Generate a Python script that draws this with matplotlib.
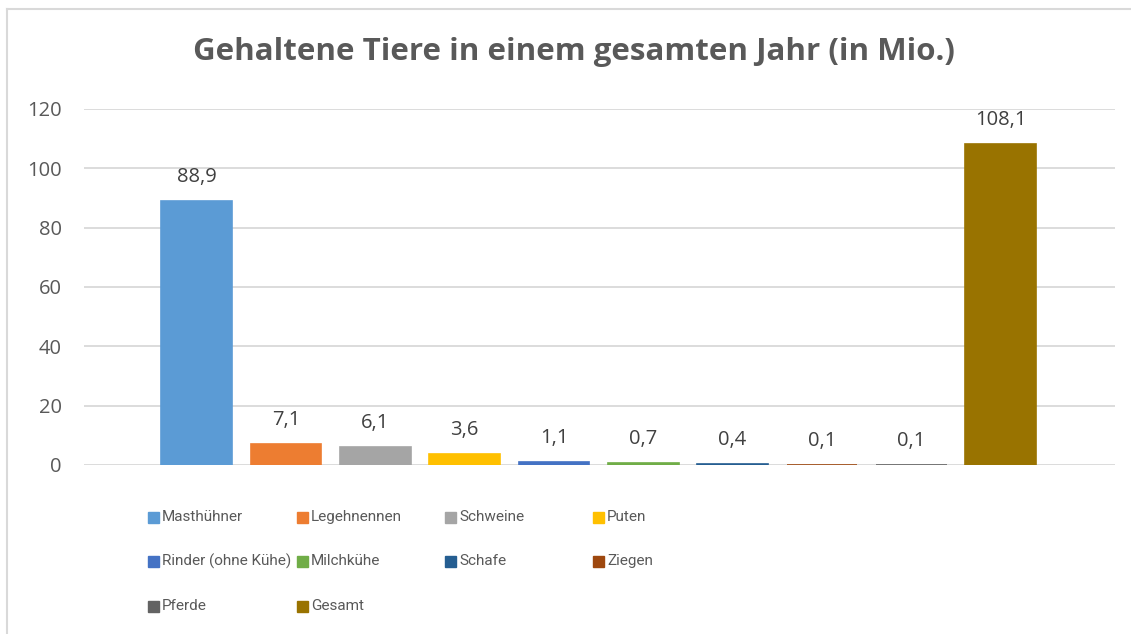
import numpy as np
import matplotlib.pyplot as plt
from matplotlib.patches import Rectangle
from matplotlib.lines import Line2D

# data
categories = ["Masthühner", "Legehnennen", "Schweine", "Puten", "Rinder (ohne Kühe)",
              "Milchkühe", "Schafe", "Ziegen", "Pferde", "Gesamt"]
values = [88.9, 7.1, 6.1, 3.6, 1.1, 0.7, 0.4, 0.1, 0.1, 108.1]
colors = ["#5B9BD5", "#ED7D31", "#A5A5A5", "#FFC000", "#4472C4",
          "#70AD47", "#255E91", "#9E480E", "#636363", "#997300"]
yticks = [0, 20, 40, 60, 80, 100, 120]

plt.rcParams['font.family'] = ['Open Sans', 'DejaVu Sans']
txt = "#595959"

W, H = 1131, 634
fig = plt.figure(figsize=(W / 100, H / 100), dpi=100)
ax = fig.add_axes([84 / W, 1 - 465 / H, (1115 - 84) / W, (465 - 109) / H])

x = np.arange(len(values))
bars = ax.bar(x, values, width=0.79, color=colors, edgecolor=colors,
              linewidth=1.2, zorder=3)
for b, v in zip(bars, values):
    ax.annotate(f"{v:.1f}".replace(".", ","), (b.get_x() + b.get_width() / 2, v),
                xytext=(0, 10), textcoords="offset points", ha="center", va="bottom",
                fontsize=14.5, color="#404040")

ax.set_xlim(-1.26, 10.28)
ax.set_ylim(0, 120)
ax.set_yticks(yticks)
ax.set_xticks([])
ax.tick_params(axis="y", length=0, pad=16, labelsize=14.5, labelcolor=txt)
ax.grid(axis="y", color="#D9D9D9", linewidth=1.3, zorder=0)
for s in ax.spines.values():
    s.set_visible(False)

fig.text(574 / W, 1 - 52 / H, "Gehaltene Tiere in einem gesamten Jahr (in Mio.)",
         ha="center", va="center", fontsize=22.5, fontweight="bold", color=txt)

# legend laid out like Excel: 4 equal columns
col_x = [148, 297, 445, 593]
row_y = [517, 561, 606]
sq = 11
for i, (name, c) in enumerate(zip(categories, colors)):
    cx = col_x[i % 4]
    cy = row_y[i // 4]
    fig.patches.append(Rectangle((cx / W, 1 - (cy + sq / 2) / H), sq / W, sq / H,
                                 transform=fig.transFigure, color=c, figure=fig))
    fig.text((cx + 14) / W, 1 - cy / H, name, ha="left", va="center",
             fontsize=11, color=txt, family=['Roboto', 'DejaVu Sans'])

# chart frame (top and left visible)
fig.lines.append(Line2D([7 / W, 1], [1 - 9 / H, 1 - 9 / H], transform=fig.transFigure,
                        color="#D9D9D9", linewidth=1.5))
fig.lines.append(Line2D([7 / W, 7 / W], [0, 1 - 9 / H], transform=fig.transFigure,
                        color="#D9D9D9", linewidth=1.5))

fig.savefig("out.png", dpi=100)
